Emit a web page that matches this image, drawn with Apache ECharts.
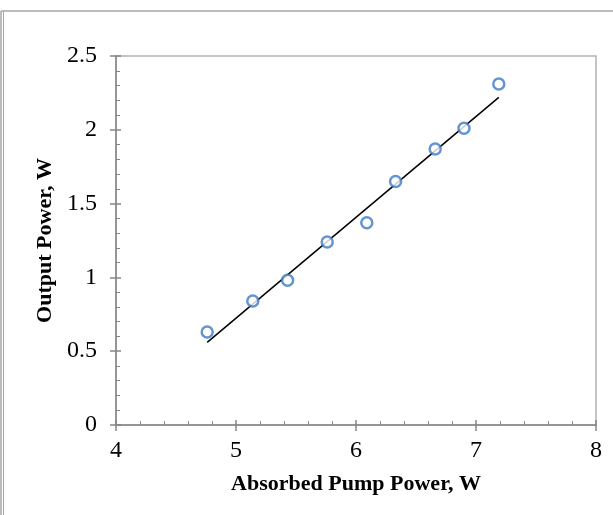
<!DOCTYPE html>
<html>
<head>
<meta charset="utf-8">
<script src="https://cdn.jsdelivr.net/npm/echarts@6/dist/echarts.min.js"></script>
<style>
  html, body { margin: 0; padding: 0; background: #fff; }
  #chart { width: 613px; height: 515px; }
</style>
</head>
<body>
<div id="chart"></div>
<script>
// measured points
const pumpPower = [4.76, 5.14, 5.43, 5.76, 6.09, 6.33, 6.66, 6.90, 7.19];
const outputPower = [0.63, 0.84, 0.98, 1.24, 1.37, 1.65, 1.87, 2.01, 2.31];
// linear trend line end points
const trendX = [4.76, 7.19];
const trendY = [0.56, 2.22];

const serif = '"Liberation Serif", "Times New Roman", serif';
const axisGray = '#868686';

const chart = echarts.init(document.getElementById('chart'));

const baseX = {
  type: 'value', min: 4, max: 8, interval: 1,
  position: 'bottom'
};
const baseY = {
  type: 'value', min: 0, max: 2.5, interval: 0.5,
  position: 'left'
};

chart.setOption({
  animation: false,
  grid: {
    left: 116, top: 56, right: 17, bottom: 90,
    show: true, borderColor: '#b3b3b3', borderWidth: 1.5
  },
  xAxis: [
    Object.assign({}, baseX, {
      name: 'Absorbed Pump Power, W',
      nameLocation: 'middle',
      nameGap: 48,
      nameTextStyle: { fontFamily: serif, fontSize: 22, fontWeight: 'bold', color: '#000' },
      axisLine: { lineStyle: { color: axisGray, width: 1.5 } },
      axisTick: { inside: true, length: 5, lineStyle: { color: axisGray, width: 1.5 } },
      minorTick: { show: true, splitNumber: 5, length: 4, lineStyle: { color: axisGray, width: 1 } },
      axisLabel: { fontFamily: serif, fontSize: 24, color: '#000', margin: 14 },
      splitLine: { show: false }
    }),
    Object.assign({}, baseX, {
      axisLine: { show: false },
      axisTick: { inside: false, length: 6, lineStyle: { color: axisGray, width: 1.5 } },
      axisLabel: { show: false },
      splitLine: { show: false }
    })
  ],
  yAxis: [
    Object.assign({}, baseY, {
      name: 'Output Power, W',
      nameLocation: 'middle',
      nameGap: 54,
      nameTextStyle: { fontFamily: serif, fontSize: 22, fontWeight: 'bold', color: '#000' },
      axisLine: { show: true, lineStyle: { color: axisGray, width: 1.5 } },
      axisTick: { show: true, inside: true, length: 5, lineStyle: { color: axisGray, width: 1.5 } },
      minorTick: { show: true, splitNumber: 5, length: 4, lineStyle: { color: axisGray, width: 1 } },
      axisLabel: { fontFamily: serif, fontSize: 24, color: '#000', margin: 19 },
      splitLine: { show: false }
    }),
    Object.assign({}, baseY, {
      axisLine: { show: false },
      axisTick: { show: true, inside: false, length: 6, lineStyle: { color: axisGray, width: 1.5 } },
      axisLabel: { show: false },
      splitLine: { show: false }
    })
  ],
  graphic: [
    { type: 'line', shape: { x1: 1, y1: 11, x2: 613, y2: 11 }, style: { stroke: '#a6a6a6', lineWidth: 1.5 } },
    { type: 'line', shape: { x1: 1, y1: 11, x2: 1, y2: 515 }, style: { stroke: '#a6a6a6', lineWidth: 1.5 } },
    { type: 'line', shape: { x1: 3.5, y1: 11, x2: 3.5, y2: 515 }, style: { stroke: '#a6a6a6', lineWidth: 1 } }
  ],
  series: [
    {
      type: 'line',
      data: trendX.map((x, i) => [x, trendY[i]]),
      showSymbol: false,
      lineStyle: { color: '#000', width: 1.5 },
      z: 2
    },
    {
      type: 'scatter',
      data: pumpPower.map((x, i) => [x, outputPower[i]]),
      symbol: 'circle',
      symbolSize: 11,
      itemStyle: { color: '#fff', borderColor: '#3d7bc4', borderWidth: 2.5 },
      z: 3
    }
  ]
});
</script>
</body>
</html>
